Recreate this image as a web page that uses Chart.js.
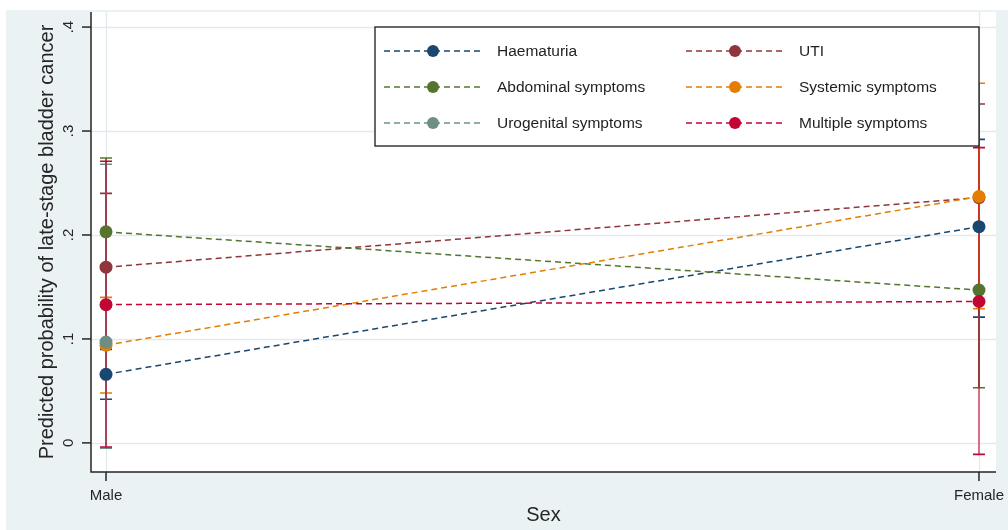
<!DOCTYPE html>
<html>
<head>
<meta charset="utf-8">
<script src="https://cdn.jsdelivr.net/npm/chart.js@4"></script>
<style>
  html, body { margin: 0; padding: 0; background: #fff; }
  #wrap { width: 1008px; height: 530px; position: relative; }
</style>
</head>
<body>
<div id="wrap"><canvas id="probChart" width="1008" height="530"></canvas></div>
<script>
// categories on the x axis
const sexLabels = ['Male', 'Female'];
const sexValues = [0, 1];

// y axis ticks
const yTicks = [0, 0.1, 0.2, 0.3, 0.4];
const yTickLabels = ['0', '.1', '.2', '.3', '.4'];

const seriesNames = ['Haematuria', 'UTI', 'Abdominal symptoms', 'Systemic symptoms', 'Urogenital symptoms', 'Multiple symptoms'];

// predicted probabilities and 95% CI (Male, Female)
const haematuria   = [0.066, 0.208];
const haematuriaLo = [0.042, 0.121];
const haematuriaHi = [0.090, 0.292];

const uti   = [0.169, 0.236];
const utiLo = [0.098, 0.146];
const utiHi = [0.240, 0.326];

const abdominal   = [0.203, 0.147];
const abdominalLo = [0.131, 0.053];
const abdominalHi = [0.274, 0.239];

const systemic   = [0.094, 0.237];
const systemicLo = [0.048, 0.129];
const systemicHi = [0.140, 0.346];

const urogenital   = [0.097, null];
const urogenitalLo = [-0.005, null];
const urogenitalHi = [0.268, null];

const multiple   = [0.133, 0.136];
const multipleLo = [-0.004, -0.011];
const multipleHi = [0.271, 0.284];

const seriesValues = [haematuria, uti, abdominal, systemic, urogenital, multiple];
const seriesLo = [haematuriaLo, utiLo, abdominalLo, systemicLo, urogenitalLo, multipleLo];
const seriesHi = [haematuriaHi, utiHi, abdominalHi, systemicHi, urogenitalHi, multipleHi];

const colors = ['#1a476f', '#90353b', '#55752f', '#e37e00', '#6e8e84', '#c10534'];
const ciWidths = [1.8, 1.8, 1.8, 1.8, 1.8, 1.1];

const FONT = '"Liberation Sans", Arial, sans-serif';

const datasets = seriesNames.map((name, i) => ({
    label: name,
    data: sexValues.map((x, j) => ({ x: x, y: seriesValues[i][j] })),
    borderColor: colors[i],
    backgroundColor: colors[i],
    pointBackgroundColor: colors[i],
    pointBorderWidth: 0,
    pointRadius: 6.5,
    borderWidth: 1.5,
    borderDash: [6, 4],
    spanGaps: false,
    order: seriesNames.length - i
}));

const stataPlugin = {
    id: 'stataLook',
    beforeDraw(chart) {
        const { ctx, chartArea: a, scales } = chart;
        ctx.save();
        ctx.fillStyle = '#ffffff';
        ctx.fillRect(0, 0, chart.width, chart.height);
        ctx.fillStyle = '#eaf2f3';
        ctx.fillRect(6, 10, chart.width - 6, chart.height - 10);
        ctx.fillStyle = '#ffffff';
        ctx.fillRect(a.left, a.top, a.width, a.height);

        // grid
        ctx.strokeStyle = '#e1ebee';
        ctx.lineWidth = 1.3;
        yTicks.forEach(v => {
            const y = Math.round(scales.y.getPixelForValue(v)) + 0.5;
            ctx.beginPath(); ctx.moveTo(a.left, y); ctx.lineTo(a.right, y); ctx.stroke();
        });
        sexValues.forEach(v => {
            const x = Math.round(scales.x.getPixelForValue(v)) + 0.5;
            ctx.beginPath(); ctx.moveTo(x, a.top); ctx.lineTo(x, a.bottom); ctx.stroke();
        });
        ctx.restore();
    },
    beforeDatasetsDraw(chart) {
        const { ctx, scales } = chart;
        ctx.save();
        seriesNames.forEach((name, i) => {
            sexValues.forEach((xv, j) => {
                const lo = seriesLo[i][j], hi = seriesHi[i][j];
                if (lo === null || hi === null) return;
                const x = scales.x.getPixelForValue(xv);
                const y1 = scales.y.getPixelForValue(lo);
                const y2 = scales.y.getPixelForValue(hi);
                ctx.strokeStyle = colors[i];
                ctx.lineWidth = ciWidths[i];
                ctx.beginPath();
                ctx.moveTo(x, y1); ctx.lineTo(x, y2);
                ctx.stroke();
                ctx.lineWidth = 1.6;
                ctx.beginPath();
                ctx.moveTo(x - 6, y1); ctx.lineTo(x + 6, y1);
                ctx.moveTo(x - 6, y2); ctx.lineTo(x + 6, y2);
                ctx.stroke();
            });
        });
        ctx.restore();
    },
    afterDraw(chart) {
        const { ctx, chartArea: a, scales } = chart;
        ctx.save();
        ctx.strokeStyle = '#262626';
        ctx.fillStyle = '#262626';
        ctx.lineWidth = 1.5;
        // axis lines
        ctx.beginPath();
        ctx.moveTo(a.left, a.top); ctx.lineTo(a.left, a.bottom); ctx.lineTo(a.right, a.bottom);
        ctx.stroke();

        // y ticks
        ctx.font = '15px ' + FONT;
        ctx.textAlign = 'center';
        ctx.textBaseline = 'middle';
        yTicks.forEach((v, k) => {
            const y = scales.y.getPixelForValue(v);
            ctx.beginPath(); ctx.moveTo(a.left - 9, y); ctx.lineTo(a.left, y); ctx.stroke();
            ctx.save();
            ctx.translate(a.left - 22, y);
            ctx.rotate(-Math.PI / 2);
            ctx.fillText(yTickLabels[k], 0, 0);
            ctx.restore();
        });

        // x ticks
        sexValues.forEach((v, k) => {
            const x = scales.x.getPixelForValue(v);
            ctx.beginPath(); ctx.moveTo(x, a.bottom); ctx.lineTo(x, a.bottom + 9); ctx.stroke();
            ctx.fillText(sexLabels[k], x, a.bottom + 24);
        });

        // axis titles
        ctx.font = '20px ' + FONT;
        ctx.fillText('Sex', (a.left + a.right) / 2, a.bottom + 43);
        ctx.save();
        ctx.translate(47, (a.top + a.bottom) / 2);
        ctx.rotate(-Math.PI / 2);
        ctx.fillText('Predicted probability of late-stage bladder cancer', 0, 0);
        ctx.restore();

        // legend box
        const bx = 375, by = 27, bw = 604, bh = 119;
        ctx.fillStyle = '#ffffff';
        ctx.fillRect(bx, by, bw, bh);
        ctx.strokeStyle = '#1a1a1a';
        ctx.lineWidth = 1.3;
        ctx.strokeRect(bx, by, bw, bh);
        ctx.font = '15.5px ' + FONT;
        ctx.textAlign = 'left';
        seriesNames.forEach((name, i) => {
            const col = i % 2, row = Math.floor(i / 2);
            const lx = bx + 9 + col * 302;
            const ly = by + 24 + row * 36;
            ctx.strokeStyle = colors[i];
            ctx.lineWidth = 1.5;
            ctx.setLineDash([6, 4]);
            ctx.beginPath(); ctx.moveTo(lx, ly); ctx.lineTo(lx + 99, ly); ctx.stroke();
            ctx.setLineDash([]);
            ctx.fillStyle = colors[i];
            ctx.beginPath(); ctx.arc(lx + 49, ly, 6, 0, Math.PI * 2); ctx.fill();
            ctx.fillStyle = '#1f1f1f';
            ctx.fillText(name, lx + 113, ly + 1);
        });
        ctx.restore();
    }
};

new Chart(document.getElementById('probChart'), {
    type: 'line',
    data: { datasets: datasets },
    options: {
        responsive: false,
        animation: false,
        layout: { padding: { left: 91, top: 12, right: 12, bottom: 58 } },
        plugins: { legend: { display: false }, tooltip: { enabled: false } },
        scales: {
            x: { type: 'linear', display: false, min: -0.0172, max: 1.0195 },
            y: { type: 'linear', display: false, min: -0.028, max: 0.4145 }
        }
    },
    plugins: [stataPlugin]
});
</script>
</body>
</html>
